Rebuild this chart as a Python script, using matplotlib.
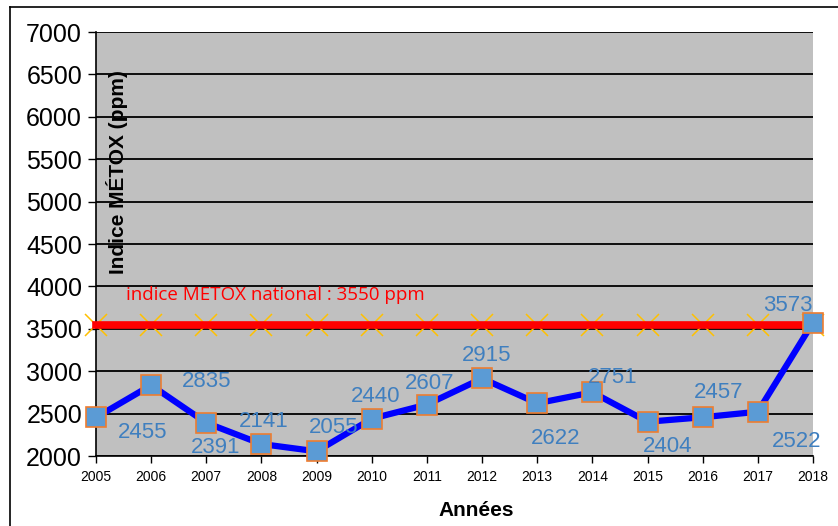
import matplotlib
matplotlib.use("Agg")
import matplotlib.pyplot as plt
from matplotlib.lines import Line2D

# data
annees = [2005, 2006, 2007, 2008, 2009, 2010, 2011, 2012, 2013, 2014, 2015, 2016, 2017, 2018]
metox = [2455, 2835, 2391, 2141, 2055, 2440, 2607, 2915, 2622, 2751, 2404, 2457, 2522, 3573]
national = 3550
national_label = "indice METOX national : 3550 ppm"
y_ticks = [2000, 2500, 3000, 3500, 4000, 4500, 5000, 5500, 6000, 6500, 7000]

# label offsets in pixels (layout only)
label_offsets = [(47, -15), (55, 4), (9, -25), (2, 23), (17, 24), (4, 22), (3, 21),
                 (5, 23), (18, -35), (20, 15), (20, -25), (16, 25), (39, -30), (-25, 17)]

plt.rcParams['font.family'] = ['Liberation Sans', 'DejaVu Sans']

fig = plt.figure(figsize=(8.38, 5.26), dpi=100)
ax = fig.add_axes([96/838, 1-456/526, (813-96)/838, (456-32)/526])
ax.set_facecolor('#C0C0C0')

# outer chart frame (only left and top are visible)
fig.add_artist(Line2D([10/838, 10/838], [0, 1-7/526], color='black', lw=1.2, transform=fig.transFigure))
fig.add_artist(Line2D([10/838, 1], [1-7/526, 1-7/526], color='black', lw=1.2, transform=fig.transFigure))

ax.set_xlim(annees[0], annees[-1])
ax.set_ylim(y_ticks[0], y_ticks[-1])
ax.set_yticks(y_ticks)
ax.set_xticks(annees)
ax.set_xticklabels([str(a) for a in annees], fontsize=10)
ax.tick_params(axis='y', labelsize=18, length=6, width=1, pad=4)
ax.tick_params(axis='x', length=5, width=1, pad=5)
ax.yaxis.grid(True, color='black', lw=1.3)
ax.set_axisbelow(True)
for s in ['top', 'right']:
    ax.spines[s].set_visible(False)
for s in ['left', 'bottom']:
    ax.spines[s].set_linewidth(1.2)

# national reference line
ax.plot(annees, [national]*len(annees), color='red', lw=5.5, zorder=3, clip_on=False)
ax.plot(annees, [national]*len(annees), ls='none', marker='x', ms=16, mew=1.1,
        color='#FFC000', zorder=2, clip_on=False)
ax.text(2005.55, 3895, national_label, color='red', fontsize=13.5, family=['Open Sans', 'DejaVu Sans'],
        va='center', ha='left')

# METOX series
ax.plot(annees, metox, color='#0000FF', lw=4.5, zorder=4, clip_on=False)
ax.plot(annees, metox, ls='none', marker='s', ms=14, mfc='#5B9BD5', mec='#ED7D31',
        mew=1.2, zorder=5, clip_on=False)

for a, v, (dx, dy) in zip(annees, metox, label_offsets):
    ax.annotate(str(v), (a, v), xytext=(dx, dy), textcoords='offset pixels',
                ha='center', va='center', fontsize=16, color='#3F7FBF', zorder=6)

ax.text(0.029, 0.67, 'Indice MÉTOX (ppm)', transform=ax.transAxes, rotation=90,
        fontsize=15, fontweight='bold', ha='center', va='center')
fig.text(476/838, 1-510/526, 'Années', fontsize=15, fontweight='bold', ha='center', va='center')

fig.savefig('out.png', dpi=100)
